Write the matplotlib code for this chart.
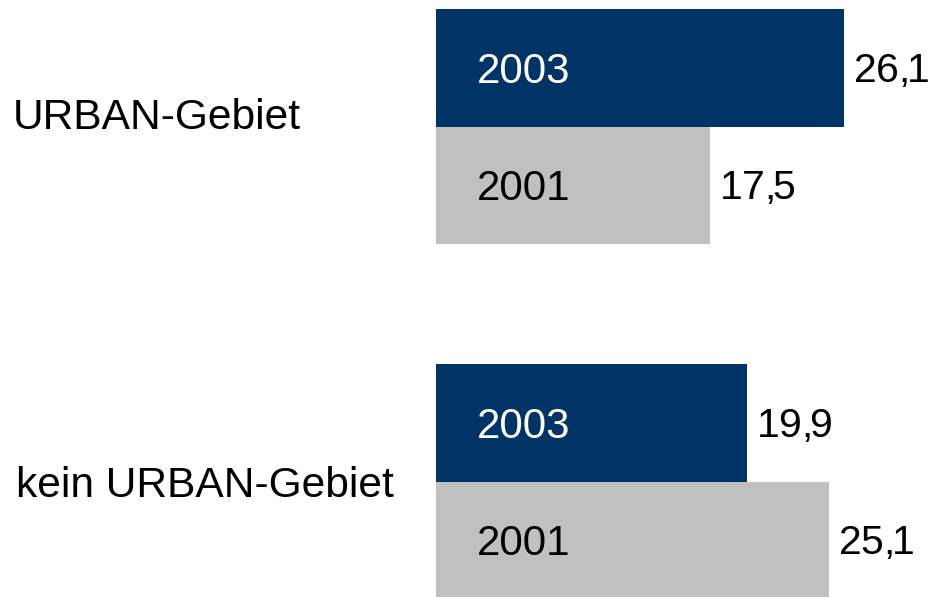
import numpy as np
import matplotlib
matplotlib.use("Agg")
import matplotlib.pyplot as plt

categories = ["URBAN-Gebiet", "kein URBAN-Gebiet"]
years = ["2003", "2001"]
values_2003 = [26.1, 19.9]
values_2001 = [17.5, 25.1]

navy = "#003366"
grey = "#C0C0C0"

plt.rcParams["font.family"] = ["Liberation Sans", "DejaVu Sans"]
plt.rcParams["mathtext.fontset"] = "custom"
plt.rcParams["mathtext.rm"] = "Liberation Sans"


def de_label(v):
    # german decimal comma, a little tighter after the comma than normal
    a, b = f"{v:.1f}".split(".")
    return r"$\mathregular{%s,\!\hspace{-0.12}%s}$" % (a, b)


W, H = 928, 597
fig = plt.figure(figsize=(W / 72, H / 72), dpi=72)
ax = fig.add_axes([436 / W, 0, 1 - 436 / W, 1])

bar_h = 0.331
y = np.arange(len(categories))
ax.barh(y - bar_h / 2, values_2003, height=bar_h, color=navy, linewidth=0)
ax.barh(y + bar_h / 2, values_2001, height=bar_h, color=grey, linewidth=0)

ax.set_xlim(0, (W - 436) / 15.64)
ax.set_ylim((H - 126.7) / 355, -126.7 / 355)
ax.axis("off")

for i in range(len(categories)):
    # year labels inside the bars
    ax.annotate(years[0], (0, y[i] - bar_h / 2), xytext=(88, -15),
                textcoords="offset points", ha="center", va="baseline",
                fontsize=42, color="white")
    ax.annotate(years[1], (0, y[i] + bar_h / 2), xytext=(88, -15),
                textcoords="offset points", ha="center", va="baseline",
                fontsize=42, color="black")
    # values at bar ends
    ax.annotate(de_label(values_2003[i]), (values_2003[i], y[i] - bar_h / 2),
                xytext=(9, -14), textcoords="offset points",
                ha="left", va="baseline", fontsize=41, color="black")
    ax.annotate(de_label(values_2001[i]), (values_2001[i], y[i] + bar_h / 2),
                xytext=(9, -14), textcoords="offset points",
                ha="left", va="baseline", fontsize=41, color="black")

# category labels on the left
fig.text(13 / W, 1 - 129.3 / H, categories[0], ha="left", va="baseline", fontsize=42.5)
fig.text(16 / W, 1 - 496.7 / H, categories[1], ha="left", va="baseline", fontsize=42.5)

fig.savefig("out.png", dpi=72, facecolor="white")
